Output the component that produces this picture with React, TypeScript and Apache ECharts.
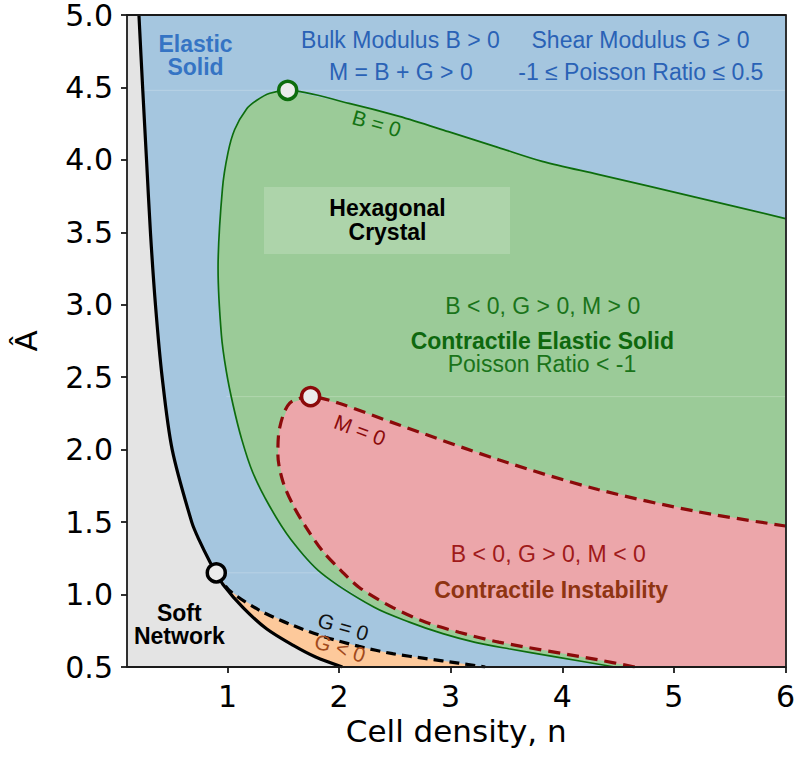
import React, { useEffect, useRef } from "react";
import * as echarts from "echarts";

// ---- Data ----
const xTicks = [1, 2, 3, 4, 5, 6];
const yTicks = [0.5, 1.0, 1.5, 2.0, 2.5, 3.0, 3.5, 4.0, 4.5, 5.0];
const xRange = [0.1, 6];
const yRange = [0.5, 5];

// Soft-network boundary (solid black)
const softBoundary = [
  [0.207, 5.0], [0.24, 4.5], [0.275, 4.0], [0.31, 3.5], [0.355, 3.0], [0.415, 2.5],
  [0.505, 2.0], [0.68, 1.5], [0.75, 1.37], [0.84, 1.23], [0.9, 1.15], [0.96, 1.07],
  [1.14, 0.91], [1.35, 0.764], [1.59, 0.649], [1.79, 0.569], [2.03, 0.5],
];

// G = 0 (dashed black)
const shearBoundary = [
  [0.9, 1.15], [1.02, 1.027], [1.29, 0.89], [1.59, 0.786], [1.88, 0.706], [2.18, 0.642],
  [2.48, 0.592], [2.78, 0.558], [3.07, 0.527], [3.31, 0.5],
];

// B = 0 (solid green)
const bulkBoundary = [
  [4.47, 0.5], [3.94, 0.57], [3.52, 0.626], [3.22, 0.67], [2.93, 0.73], [2.63, 0.81],
  [2.315, 0.912], [1.839, 1.15], [1.565, 1.384], [1.377, 1.611], [1.226, 1.844],
  [1.128, 2.071], [1.05, 2.31], [0.99, 2.54], [0.946, 2.79], [0.916, 3.25], [0.955, 3.8],
  [1.005, 4.05], [1.065, 4.21], [1.17, 4.35], [1.26, 4.41], [1.38, 4.46], [1.54, 4.48],
  [2.09, 4.39], [2.54, 4.3], [2.98, 4.195], [3.43, 4.085], [3.82, 3.99], [4.32, 3.9],
  [5.21, 3.74], [6.0, 3.595],
];

// M = 0 (dashed dark red)
const massBoundary = [
  [4.65, 0.5], [4.32, 0.55], [3.431, 0.672], [3.074, 0.74], [2.777, 0.809], [2.479, 0.912],
  [2.181, 1.049], [2.02, 1.164], [1.851, 1.302], [1.708, 1.46], [1.592, 1.611],
  [1.496, 1.782], [1.452, 1.966], [1.467, 2.148], [1.556, 2.32], [1.745, 2.366],
  [2.0, 2.32], [2.54, 2.17], [3.43, 1.93], [4.32, 1.725], [5.22, 1.571], [6.0, 1.473],
];

// Critical points
const bulkPoint = [[1.54, 4.48]];
const massPoint = [[1.745, 2.366]];
const softPoint = [[0.9, 1.15]];

// faint fill seams (y level, x from, x to)
const seams = [
  [4.48, 0.24, 6.0],
  [2.366, 0.99, 6.0],
  [1.15, 0.9, 1.839],
];

const AXIS_FONT = '"DejaVu Sans", sans-serif';
const TXT_FONT = '"Liberation Sans", Arial, Helvetica, sans-serif';

function polygonSeries(name: string, pts: number[][], color: string) {
  return {
    type: "custom",
    name,
    silent: true,
    clip: true,
    data: [[xRange[0], yRange[0]]],
    renderItem: (_params: any, api: any) => ({
      type: "polygon",
      shape: { points: pts.map((p) => api.coord(p)) },
      style: { fill: color },
    }),
  };
}

function lineSeries(name: string, pts: number[][], color: string, width: number, dash: any) {
  return {
    type: "line",
    name,
    silent: true,
    data: pts,
    showSymbol: false,
    symbol: "none",
    smooth: 0.3,
    z: 3,
    lineStyle: { color, width, type: dash, cap: "butt" },
  };
}

function pointSeries(name: string, pts: number[][], border: string) {
  return {
    type: "scatter",
    name,
    silent: true,
    data: pts,
    symbol: "circle",
    symbolSize: 18,
    z: 5,
    itemStyle: { color: "#ececec", borderColor: border, borderWidth: 3.5, opacity: 1 },
  };
}

function label(
  text: string,
  x: number,
  y: number,
  color: string,
  bold = false,
  size = 23,
  rot = 0,
  lineHeight?: number
) {
  return {
    type: "text",
    x,
    y,
    rotation: rot,
    z: 100,
    silent: true,
    style: {
      text,
      fill: color,
      fontSize: size,
      fontWeight: bold ? "bold" : "normal",
      fontFamily: TXT_FONT,
      align: "center",
      verticalAlign: "middle",
      lineHeight: lineHeight || size,
    },
  };
}

export default function App() {
  const ref = useRef<HTMLDivElement>(null);
  useEffect(() => {
    if (!ref.current) return;
    const chart = echarts.init(ref.current, null, { renderer: "svg" });
    const axisLineStyle = { color: "#1a1a1a", width: 1.8 };
    const option: any = {
      animation: false,
      grid: {
        left: 127,
        right: 11,
        top: 12,
        bottom: 95,
        show: true,
        backgroundColor: "#a5c6df",
        borderWidth: 0,
      },
      xAxis: [
        {
          type: "value",
          min: xRange[0],
          max: xRange[1],
          z: 10,
          name: "Cell density, n",
          nameLocation: "middle",
          nameGap: 47,
          nameTextStyle: { fontSize: 31, fontFamily: AXIS_FONT, color: "#000" },
          axisLine: { show: true, onZero: false, lineStyle: axisLineStyle },
          axisTick: { show: true, customValues: xTicks, length: 6, lineStyle: axisLineStyle },
          axisLabel: {
            customValues: xTicks,
            margin: 16,
            fontSize: 30,
            lineHeight: 26,
            fontFamily: AXIS_FONT,
            color: "#000",
            formatter: (v: number) => String(v),
          },
          splitLine: { show: false },
        },
        {
          type: "value",
          position: "top",
          min: xRange[0],
          max: xRange[1],
          z: 10,
          axisLine: { show: true, onZero: false, lineStyle: axisLineStyle },
          axisTick: { show: false },
          axisLabel: { show: false },
          splitLine: { show: false },
        },
      ],
      yAxis: [
        {
          type: "value",
          min: yRange[0],
          max: yRange[1],
          z: 10,
          name: "Â",
          nameLocation: "middle",
          nameRotate: 90,
          nameGap: 86,
          nameTextStyle: { fontSize: 31, fontFamily: AXIS_FONT, color: "#000" },
          axisLine: { show: true, onZero: false, lineStyle: axisLineStyle },
          axisTick: { show: true, customValues: yTicks, length: 6, lineStyle: axisLineStyle },
          axisLabel: {
            customValues: yTicks,
            margin: 14,
            fontSize: 30,
            lineHeight: 24,
            fontFamily: AXIS_FONT,
            color: "#000",
            formatter: (v: number) => v.toFixed(1),
          },
          splitLine: { show: false },
        },
        {
          type: "value",
          position: "right",
          min: yRange[0],
          max: yRange[1],
          z: 10,
          axisLine: { show: true, onZero: false, lineStyle: axisLineStyle },
          axisTick: { show: false },
          axisLabel: { show: false },
          splitLine: { show: false },
        },
      ],
      series: [
        polygonSeries("soft", [[xRange[0], yRange[1]], ...softBoundary, [xRange[0], yRange[0]]], "#e4e4e4"),
        polygonSeries(
          "gneg",
          [...shearBoundary, ...softBoundary.filter((p) => p[0] > 0.9).reverse()],
          "#fdc99b"
        ),
        polygonSeries("bneg", [...bulkBoundary, [xRange[1], yRange[0]]], "#9bcb98"),
        polygonSeries("mneg", [...massBoundary, [xRange[1], yRange[0]]], "#eca6aa"),
        {
          type: "custom",
          name: "seams",
          silent: true,
          clip: true,
          data: seams,
          renderItem: (params: any, api: any) => {
            const s = seams[params.dataIndex];
            const a = api.coord([s[1], s[0]]);
            const b = api.coord([s[2], s[0]]);
            return {
              type: "line",
              shape: { x1: a[0], y1: a[1], x2: b[0], y2: b[1] },
              style: { stroke: "rgba(255,255,255,0.22)", lineWidth: 1 },
            };
          },
        },
        lineSeries("B=0", bulkBoundary, "#0d6d0d", 1.7, "solid"),
        lineSeries("M=0", massBoundary, "#8b0a0a", 3.2, [12, 7]),
        lineSeries("G=0", shearBoundary, "#000000", 3.2, [10, 6]),
        lineSeries("soft boundary", softBoundary, "#000000", 3.2, "solid"),
        pointSeries("B point", bulkPoint, "#0d6d0d"),
        pointSeries("M point", massPoint, "#8b0a0a"),
        pointSeries("soft point", softPoint, "#000000"),
      ],
      graphic: [
        {
          type: "rect",
          z: 50,
          silent: true,
          shape: { x: 264, y: 187, width: 246, height: 67 },
          style: { fill: "rgba(255,255,255,0.18)" },
        },
        label("Elastic\nSolid", 195.5, 55.5, "#3574c4", true, 23, 0, 23.6),
        label("Bulk Modulus B > 0", 400.5, 40, "#2a62b6"),
        label("M = B + G > 0", 400.8, 71.7, "#2a62b6"),
        label("Shear Modulus G > 0", 640.5, 40, "#2a62b6"),
        label("-1 ≤ Poisson Ratio ≤ 0.5", 640.8, 71.7, "#2a62b6"),
        label("B = 0", 376.7, 123.3, "#137313", false, 21, -0.28),
        label("Hexagonal\nCrystal", 387.5, 219.8, "#000", true, 23, 0, 23.6),
        label("B < 0, G > 0, M > 0", 542.7, 305.5, "#1a741a"),
        label("Contractile Elastic Solid", 542.3, 340.5, "#0e680e", true),
        label("Poisson Ratio < -1", 542, 364, "#1a741a"),
        label("M = 0", 360, 430, "#8b0a0a", false, 21, -0.36),
        label("B < 0, G > 0, M < 0", 548.3, 553.7, "#a01a1a"),
        label("Contractile Instability", 551.2, 590, "#8f3412", true),
        label("Soft\nNetwork", 179.3, 624.5, "#000", true, 23, 0, 23.6),
        label("G = 0", 343.3, 626.7, "#111", false, 21, -0.29),
        label("G < 0", 340, 648, "#a24a1c", false, 21, -0.3),
      ],
    };
    chart.setOption(option);
    return () => chart.dispose();
  }, []);
  return (
    <div
      ref={ref}
      style={{ position: "absolute", left: 0, top: 0, width: 798, height: 762, background: "#fff" }}
    />
  );
}
